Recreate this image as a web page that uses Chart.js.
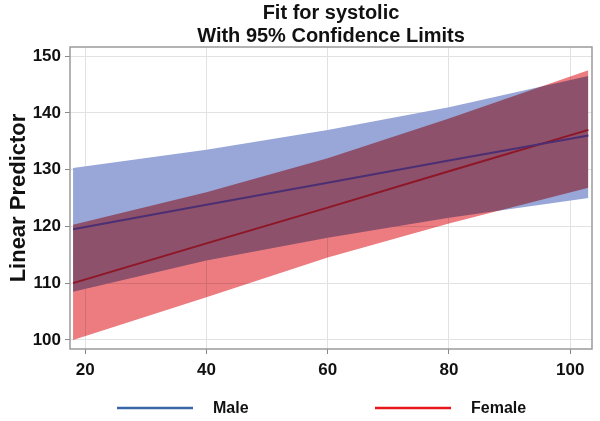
<!DOCTYPE html>
<html>
<head>
    <title>Fit for systolic</title>
    <script src="https://cdn.jsdelivr.net/npm/chart.js"></script>
    <style>
        body { margin: 0; background: #fff; }
        #wrap { width: 600px; height: 421px; }
    </style>
</head>
<body>
    <div id="wrap"><canvas id="myChart"></canvas></div>

    <script>
        // values
        var ages = [18, 40, 60, 80, 103];
        var maleFit = [119.5, 123.8, 127.7, 131.6, 136];
        var maleLower = [108.5, 114, 118, 121.5, 125];
        var maleUpper = [130.3, 133.5, 137, 141, 146.5];
        var femaleFit = [110, 117, 123.3, 129.7, 137];
        var femaleLower = [100, 107.5, 114.5, 120.5, 126.8];
        var femaleUpper = [120.3, 126, 132, 139, 147.5];
        var xTicks = [20, 40, 60, 80, 100];
        var yTicks = [100, 110, 120, 130, 140, 150];
        var titleLines = ['Fit for systolic', 'With 95% Confidence Limits'];

        var fontFamily = '"Liberation Sans", Arial, sans-serif';

        function pts(ys) {
            return ages.map(function (a, i) { return { x: a, y: ys[i] }; });
        }

        // bands multiply like the original overlay, fit lines drawn normally
        var blendPlugin = {
            id: 'blend',
            beforeDatasetDraw: function (chart, args) {
                chart.ctx.globalCompositeOperation = args.index >= 4 ? 'source-over' : 'multiply';
            },
            afterDatasetsDraw: function (chart) {
                var a = chart.chartArea, ctx = chart.ctx;
                ctx.globalCompositeOperation = 'source-over';
                ctx.save();
                ctx.strokeStyle = '#9a9a9a';
                ctx.lineWidth = 1.5;
                ctx.strokeRect(a.left, a.top, a.right - a.left, a.bottom - a.top);
                ctx.restore();
            }
        };

        // two-line title centred over the plot, plus the line legend underneath
        var textPlugin = {
            id: 'texts',
            afterDraw: function (chart) {
                var a = chart.chartArea, ctx = chart.ctx;
                var cx = (a.left + a.right) / 2;
                ctx.save();
                ctx.fillStyle = '#111';
                ctx.font = 'bold 20px ' + fontFamily;
                ctx.textAlign = 'center';
                ctx.textBaseline = 'middle';
                ctx.fillText(titleLines[0], cx, 13);
                ctx.fillText(titleLines[1], cx, 36);

                var items = [
                    { label: 'Male', color: '#3a67a6', x: 117 },
                    { label: 'Female', color: '#e6181c', x: 375 }
                ];
                var ly = 408;
                ctx.font = 'bold 16px ' + fontFamily;
                ctx.textAlign = 'left';
                items.forEach(function (it) {
                    ctx.strokeStyle = it.color;
                    ctx.lineWidth = 2.5;
                    ctx.beginPath();
                    ctx.moveTo(it.x, ly);
                    ctx.lineTo(it.x + 76, ly);
                    ctx.stroke();
                    ctx.fillText(it.label, it.x + 96, ly + 1);
                });
                ctx.restore();
            }
        };

        var tickFont = { family: fontFamily, size: 17, weight: 'bold' };

        var ctx = document.getElementById('myChart').getContext('2d');
        var myChart = new Chart(ctx, {
            type: 'line',
            data: {
                datasets: [
                    { label: 'maleLower', data: pts(maleLower), borderWidth: 0, pointRadius: 0, fill: false, order: 3 },
                    { label: 'maleUpper', data: pts(maleUpper), borderWidth: 0, pointRadius: 0, fill: '-1', backgroundColor: 'rgb(152,166,216)', order: 3 },
                    { label: 'femaleLower', data: pts(femaleLower), borderWidth: 0, pointRadius: 0, fill: false, order: 2 },
                    { label: 'femaleUpper', data: pts(femaleUpper), borderWidth: 0, pointRadius: 0, fill: '-1', backgroundColor: 'rgb(236,124,128)', order: 2 },
                    { label: 'Male', data: pts(maleFit), borderColor: '#4c2f72', borderWidth: 2, pointRadius: 0, fill: false, order: 0 },
                    { label: 'Female', data: pts(femaleFit), borderColor: '#8e1626', borderWidth: 2, pointRadius: 0, fill: false, order: 0 }
                ]
            },
            options: {
                responsive: true,
                maintainAspectRatio: false,
                animation: false,
                layout: { padding: { top: 47, right: 8, left: 6, bottom: 42 } },
                plugins: {
                    title: { display: false },
                    tooltip: { enabled: false },
                    legend: { display: false }
                },
                scales: {
                    x: {
                        type: 'linear',
                        min: 17.5,
                        max: 103.6,
                        afterBuildTicks: function (scale) {
                            scale.ticks = xTicks.map(function (v) { return { value: v }; });
                        },
                        afterFit: function (scale) { scale.height = 30; },
                        ticks: { color: '#111', font: tickFont, padding: 6 },
                        grid: { color: '#e2e2e2', tickLength: 5, tickColor: '#888' },
                        border: { display: false }
                    },
                    y: {
                        min: 98.4,
                        max: 151.6,
                        afterBuildTicks: function (scale) {
                            scale.ticks = yTicks.map(function (v) { return { value: v }; });
                        },
                        afterFit: function (scale) { scale.width = 64; },
                        ticks: { color: '#111', font: tickFont, padding: 4 },
                        grid: { color: '#e2e2e2', tickLength: 5, tickColor: '#888' },
                        border: { display: false },
                        title: {
                            display: true,
                            text: 'Linear Predictor',
                            color: '#111',
                            font: { family: fontFamily, size: 22, weight: 'bold' },
                            padding: 0
                        }
                    }
                }
            },
            plugins: [blendPlugin, textPlugin]
        });
    </script>
</body>
</html>
